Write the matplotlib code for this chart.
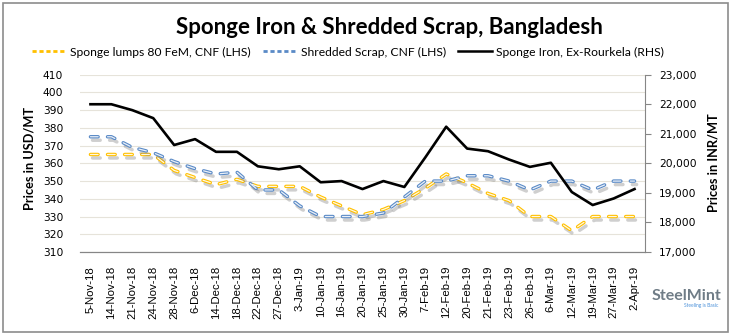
import matplotlib.pyplot as plt
import matplotlib.patheffects as pe
from matplotlib.lines import Line2D
from matplotlib.patches import Rectangle
from matplotlib.ticker import FuncFormatter

plt.rcParams["lines.scale_dashes"] = False

dates = [
    "5-Nov-18", "14-Nov-18", "21-Nov-18", "24-Nov-18", "28-Nov-18", "6-Dec-18",
    "14-Dec-18", "18-Dec-18", "22-Dec-18", "27-Dec-18", "3-Jan-19", "10-Jan-19",
    "16-Jan-19", "20-Jan-19", "25-Jan-19", "30-Jan-19", "7-Feb-19", "12-Feb-19",
    "20-Feb-19", "21-Feb-19", "23-Feb-19", "26-Feb-19", "6-Mar-19", "12-Mar-19",
    "19-Mar-19", "27-Mar-19", "2-Apr-19",
]
sponge_lumps = [365, 365, 365, 365, 356, 352, 348, 351, 347, 347, 347, 341, 336,
                331, 334, 339, 346, 354, 349, 343, 339, 330, 330, 322, 330, 330, 330]
shredded = [375, 375, 369, 366, 361, 357, 354, 355, 345, 345, 336, 330, 330,
            330, 332, 341, 350, 350, 353, 353, 350, 345, 350, 350, 345, 350, 350]
sponge_iron = [22000, 22000, 21800, 21530, 20620, 20820, 20390, 20390, 19900, 19800,
               19900, 19360, 19400, 19130, 19400, 19200, 20200, 21240, 20500, 20410,
               20130, 19880, 20020, 19030, 18590, 18810, 19130]

YELLOW = "#FFC000"
BLUE = "#5A8AC6"
DASH = (0, (5.5, 6.8))


def main() -> None:
    fig = plt.figure(figsize=(7.32, 3.36), dpi=100)
    ax = fig.add_axes([80 / 732, 1 - 252 / 336, 565 / 732, (252 - 74.7) / 336])
    ax2 = ax.twinx()

    x = list(range(len(dates)))
    shadow = [pe.SimpleLineShadow(offset=(1.5, -2.5), shadow_color="#777777", alpha=0.35), pe.Normal()]

    # hollow dashed lines: thick coloured line + thin light core
    for vals, col, core in [(sponge_lumps, YELLOW, "#FFF8E4"), (shredded, BLUE, "#EAF0F8")]:
        ax.plot(x, vals, color=col, lw=2.5, linestyle=DASH, dash_capstyle="round",
                path_effects=shadow, zorder=3)
        ax.plot(x, vals, color=core, lw=0.9, linestyle=DASH, dash_capstyle="round", zorder=4)

    ax2.plot(x, sponge_iron, color="black", lw=1.9, zorder=5)

    ax.set_xlim(-0.5, len(dates) - 0.5)
    ax.set_ylim(310, 410)
    ax.set_yticks(range(310, 411, 10))
    ax2.set_ylim(17000, 23000)
    ax2.set_yticks(range(17000, 23001, 1000))
    ax2.yaxis.set_major_formatter(FuncFormatter(lambda v, p: f"{int(v):,}"))

    ax.set_xticks(x)
    ax.set_xticklabels(dates, rotation=90, fontsize=8.2, family="Liberation Sans")
    ax.tick_params(axis="x", length=0, pad=10)
    ax.tick_params(axis="y", length=0, labelsize=7.7, pad=12)
    ax2.tick_params(axis="y", length=4, color="#868686", labelsize=7.7, pad=6)

    ax.grid(axis="y", color="#E6E3DA", lw=0.8)
    ax.set_axisbelow(True)
    for a in (ax, ax2):
        a.spines["top"].set_visible(False)
        a.spines["left"].set_visible(False)
        a.spines["bottom"].set_color("#868686")
        a.spines["right"].set_color("#868686")
    ax.spines["right"].set_visible(False)
    ax2.patch.set_visible(False)

    fig.text(30 / 732, 1 - 158 / 336, "Prices in USD/MT", rotation=90, ha="center", va="center",
             fontsize=9.2, fontweight="bold", family="Lato")
    fig.text(713 / 732, 1 - 163 / 336, "Prices in INR/MT", rotation=90, ha="center", va="center",
             fontsize=9.2, fontweight="bold", family="Lato")

    fig.text(389 / 732, 1 - 28 / 336, "Sponge Iron & Shredded Scrap, Bangladesh", ha="center",
             va="center", fontsize=16, fontweight="bold", family="Lato")

    handles = [
        Line2D([], [], color=YELLOW, lw=2, linestyle=(0, (3, 2))),
        Line2D([], [], color=BLUE, lw=2, linestyle=(0, (3, 2))),
        Line2D([], [], color="black", lw=1.8),
    ]
    labels = ["Sponge lumps 80 FeM, CNF (LHS)", "Shredded Scrap, CNF (LHS)", "Sponge Iron, Ex-Rourkela (RHS)"]
    fig.legend(handles, labels, loc="center", bbox_to_anchor=(348 / 732, 1 - 52 / 336), ncol=3,
               frameon=False, prop={"family": "Lato", "size": 8.7}, handlelength=2.8,
               handletextpad=0.35, columnspacing=1.0)

    # SteelMint mark
    fig.text(686 / 732, 1 - 296 / 336, "SteelMint", ha="center", va="center", fontsize=11.5,
             fontweight="bold", color="#6F7C86", family="Lato")
    fig.text(701 / 732, 1 - 305 / 336, "Steeling is Basic", ha="center", va="center", fontsize=3.5,
             color="#4A90D9", family="Lato")

    fig.patches.append(Rectangle((2.5 / 732, 1 - 331.5 / 336), 725 / 732, 328.5 / 336,
                                 transform=fig.transFigure, fill=False, edgecolor="#8C8C8C", lw=1.2))

    fig.savefig("out.png", dpi=100)


if __name__ == "__main__":
    main()
